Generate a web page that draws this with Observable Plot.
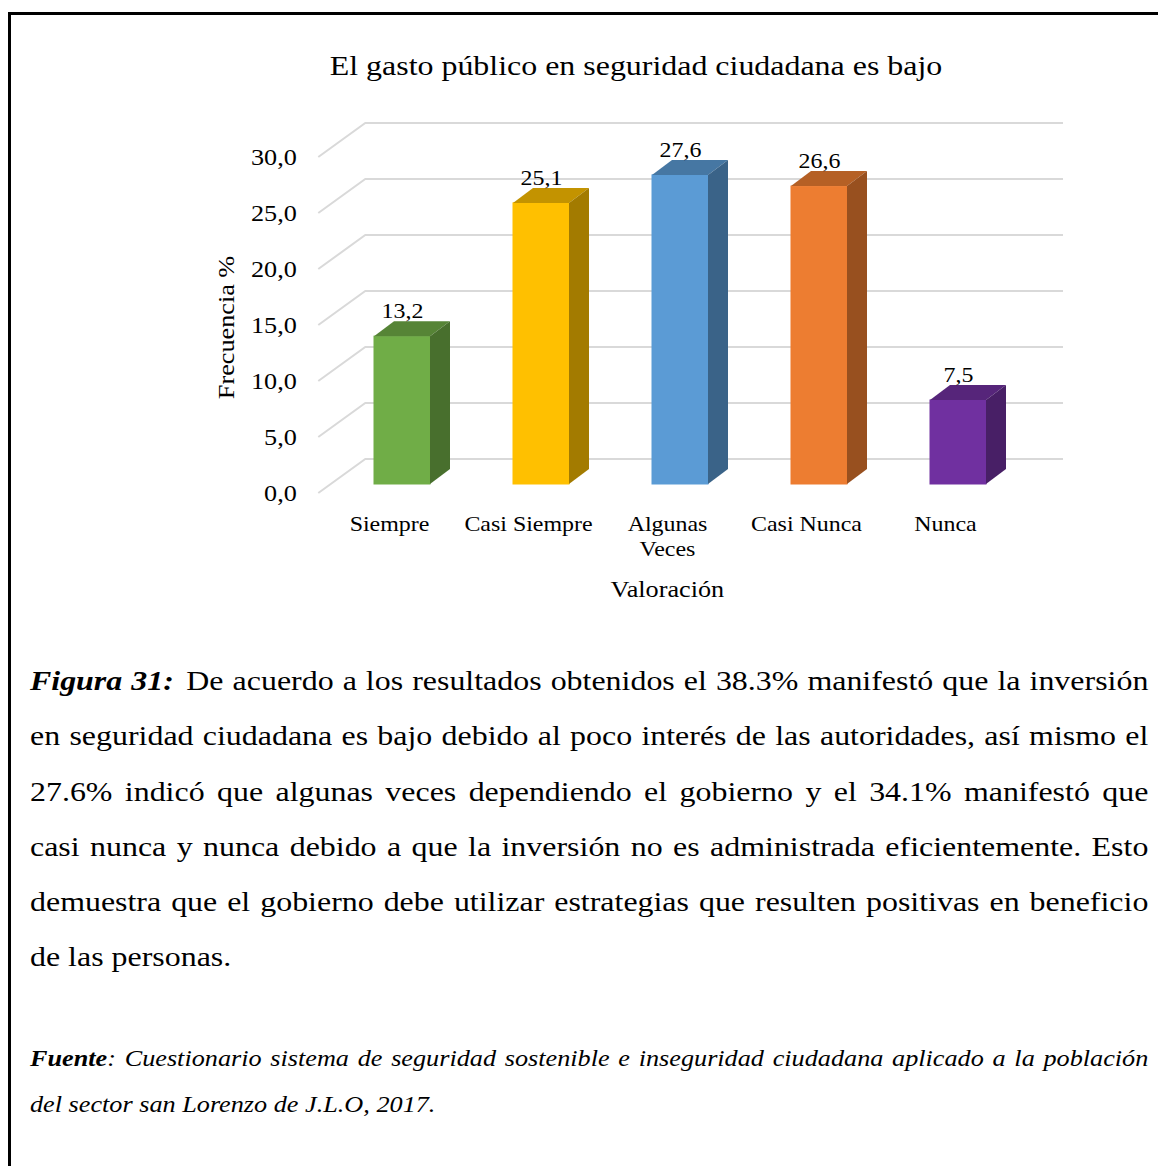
<!DOCTYPE html>
<html>
<head>
<meta charset="utf-8">
<script src="https://cdn.jsdelivr.net/npm/d3@7"></script>
<script src="https://cdn.jsdelivr.net/npm/@observablehq/plot@0.6"></script>
<style>
  html, body { margin: 0; padding: 0; background: #fff; overflow: hidden; }
  body { width: 1158px; height: 1166px; position: relative; font-family: "Liberation Serif", "Times New Roman", serif; color: #000; }
  #frame { position: absolute; left: 8px; top: 12px; width: 1300px; height: 1300px; border: 3px solid #000; box-sizing: border-box; }
  #chart { position: absolute; left: 0; top: 0; }
  #title { position: absolute; left: 136px; width: 1000px; top: 48px; text-align: center; font-size: 28px; line-height: 36px; transform: scaleX(1.14); transform-origin: 50% 0; }
  #caption { position: absolute; left: 30px; width: 981px; top: 653px; font-size: 28px; line-height: 55.3px; text-align: justify; margin: 0; transform: scaleX(1.14); transform-origin: 0 0; }
  #caption .fig { font-weight: bold; font-style: italic; margin-right: 3px; }
  #source { position: absolute; left: 30px; width: 981px; top: 1036px; font-size: 23px; line-height: 46px; font-style: italic; margin: 0; transform: scaleX(1.14); transform-origin: 0 0; }
  #source .l1 { text-align: justify; text-align-last: justify; white-space: nowrap; }
</style>
</head>
<body>
<div id="frame"></div>
<div id="chart"></div>
<div id="title">El gasto público en seguridad ciudadana es bajo</div>
<p id="caption"><span class="fig">Figura 31:</span> De acuerdo a los resultados obtenidos el 38.3% manifestó que la inversión en seguridad ciudadana es bajo debido al poco interés de las autoridades, así mismo el 27.6% indicó que algunas veces dependiendo el gobierno y el 34.1% manifestó que casi nunca y nunca debido a que la inversión no es administrada eficientemente. Esto demuestra que el gobierno debe utilizar estrategias que resulten positivas en beneficio de las personas.</p>
<div id="source"><div class="l1"><b>Fuente</b>: Cuestionario sistema de seguridad sostenible e inseguridad ciudadana aplicado a la población</div><div>del sector san Lorenzo de J.L.O, 2017.</div></div>
<script>
// ---- data ----
const categories = ["Siempre", "Casi Siempre", "Algunas Veces", "Casi Nunca", "Nunca"];
const categoryLabels = ["Siempre", "Casi Siempre", "Algunas\nVeces", "Casi Nunca", "Nunca"];
const values = [13.2, 25.1, 27.6, 26.6, 7.5];
const valueLabels = ["13,2", "25,1", "27,6", "26,6", "7,5"];
const yTicks = [0, 5, 10, 15, 20, 25, 30];
const yTickLabels = ["0,0", "5,0", "10,0", "15,0", "20,0", "25,0", "30,0"];
const colors = ["#70AD47", "#FFC000", "#5B9BD5", "#ED7D31", "#7030A0"];
const yTitle = "Frecuencia %";
const xTitle = "Valoración";

const rows = categories.map((c, i) => ({cat: c, value: values[i], label: valueLabels[i]}));

// ---- 3D helpers (pixel depth) ----
const DX = 20, DY = 15;
const STRETCH = 1.14; // horizontal glyph stretch seen in the reference

function walls(index, scales, channels, dim) {
  const y = scales.y;
  const L = dim.marginLeft, R = dim.width - dim.marginRight;
  const fx = L + 29, bx = L + 76, ex = R - 7.5;
  const g = d3.create("svg:g")
    .attr("fill", "none").attr("stroke", "#d9d9d9").attr("stroke-width", 2);
  for (const t of yTicks) {
    const yy = y(t);
    g.append("path").attr("d", `M${fx},${yy + 9}L${bx},${yy - 25}H${ex}`);
  }
  return g.node();
}

function cubes(index, scales, channels, dim) {
  const {x, y, color} = scales;
  const bw = x.bandwidth();
  const g = d3.create("svg:g");
  rows.forEach((d) => {
    const x0 = x(d.cat), x1 = x0 + bw, yt = y(d.value), yb = y(0);
    const base = d3.color(color(d.cat));
    g.append("path")
      .attr("d", `M${x0},${yt}L${x0 + DX},${yt - DY}L${x1 + DX},${yt - DY}L${x1},${yt}Z`)
      .attr("fill", base.darker(0.75).formatHex());
    g.append("path")
      .attr("d", `M${x1},${yt}L${x1 + DX},${yt - DY}L${x1 + DX},${yb - DY}L${x1},${yb}Z`)
      .attr("fill", base.darker(1.25).formatHex());
  });
  return g.node();
}

const plot = Plot.plot({
  width: 1158,
  height: 620,
  marginLeft: 289.3,
  marginRight: 87.5,
  marginTop: 148,
  marginBottom: 136,
  style: {fontFamily: "'Liberation Serif', 'Times New Roman', serif", color: "#000", background: "transparent"},
  x: {domain: categories, padding: 0.6, axis: null},
  y: {domain: [0, 30], axis: null},
  color: {domain: categories, range: colors},
  marks: [
    walls,
    Plot.barY(rows, {x: "cat", y: "value", fill: "cat", inset: 0, stroke: "cat", strokeWidth: 1}),
    cubes,
    Plot.axisY({ticks: yTicks, tickFormat: (d) => yTickLabels[yTicks.indexOf(d)], tickSize: 0, tickPadding: 0, dx: 7, dy: 9, fontSize: 23, label: null}),
    Plot.axisX({tickFormat: (d) => categoryLabels[categories.indexOf(d)], tickSize: 0, tickPadding: 0, dx: -13, dy: 28, fontSize: 21, lineHeight: 1.22, label: null}),
    Plot.text(rows, {x: "cat", y: "value", text: "label", dy: -25, fontSize: 21}),
    Plot.text([yTitle], {frameAnchor: "left", textAnchor: "middle", text: (d) => d, rotate: -90, dx: -63, dy: 11, fontSize: 23}),
    Plot.text([xTitle], {frameAnchor: "bottom", text: (d) => d, dx: -13, dy: 112, fontSize: 23})
  ]
});

document.getElementById("chart").appendChild(plot);

// stretch glyphs horizontally about each text's own anchor point
plot.querySelectorAll("text").forEach((t) => {
  let m = null;
  try { const c = t.transform.baseVal.consolidate(); if (c) m = c.matrix; } catch (e) {}
  let x = 0, y = 0;
  try { if (t.x.baseVal.numberOfItems) x = t.x.baseVal.getItem(0).value; } catch (e) {}
  try { if (t.y.baseVal.numberOfItems) y = t.y.baseVal.getItem(0).value; } catch (e) {}
  if (!isFinite(x) || !isFinite(y)) return;
  const pre = m ? `matrix(${m.a},${m.b},${m.c},${m.d},${m.e},${m.f}) ` : "";
  t.setAttribute("transform", `${pre}translate(${x},${y}) scale(${STRETCH},1) translate(${-x},${-y})`);
});
</script>
</body>
</html>
